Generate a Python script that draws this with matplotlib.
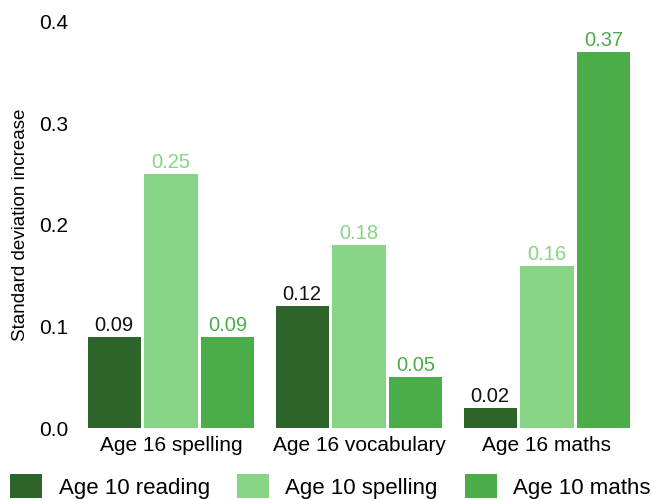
import matplotlib
matplotlib.use("Agg")
import matplotlib.pyplot as plt
import numpy as np

groups = ["Age 16 spelling", "Age 16 vocabulary", "Age 16 maths"]
series = ["Age 10 reading", "Age 10 spelling", "Age 10 maths"]
reading = [0.09, 0.12, 0.02]
spelling = [0.25, 0.18, 0.16]
maths = [0.09, 0.05, 0.37]
yticks = [0.0, 0.1, 0.2, 0.3, 0.4]

colors = ["#2d6429", "#87d486", "#4aad4a"]
label_colors = ["#111111", "#87d486", "#4aad4a"]

plt.rcParams['font.family'] = ['Liberation Sans', 'DejaVu Sans']

fig = plt.figure(figsize=(6.61, 4.99), dpi=100)
ax = fig.add_axes([77/661, 71/499, 564/661, 406/499])

x = np.arange(len(groups))
width = 0.283
pitch = 0.302
handles = []
for i, (vals, c, lc) in enumerate(zip([reading, spelling, maths], colors, label_colors)):
    pos = x + (i - 1) * pitch
    b = ax.bar(pos, vals, width=width, color=c)
    handles.append(b)
    for p, v in zip(pos, vals):
        ax.text(p, v + 0.002, f"{v:.2f}", ha="center", va="bottom", color=lc, fontsize=14.5)

ax.set_xlim(-0.5, 2.5)
ax.set_ylim(0, 0.4)
ax.set_yticks(yticks)
ax.set_yticklabels([f"{t:.1f}" for t in yticks], fontsize=15)
ax.set_xticks(x)
ax.set_xticklabels(groups, fontsize=15)
ax.tick_params(axis="y", length=0, pad=6.5)
ax.tick_params(axis="x", length=0, pad=6)
for s in ax.spines.values():
    s.set_visible(False)
ax.set_ylabel("Standard deviation increase", fontsize=13.5, labelpad=7)

fig.legend(handles, series, ncol=3, loc="upper left", bbox_to_anchor=(0.015, 0.05),
           frameon=False, fontsize=16, handlelength=1.45, handleheight=1.3,
           columnspacing=1.2, handletextpad=0.75, borderaxespad=0, borderpad=0)

fig.savefig("out.png", dpi=100)
